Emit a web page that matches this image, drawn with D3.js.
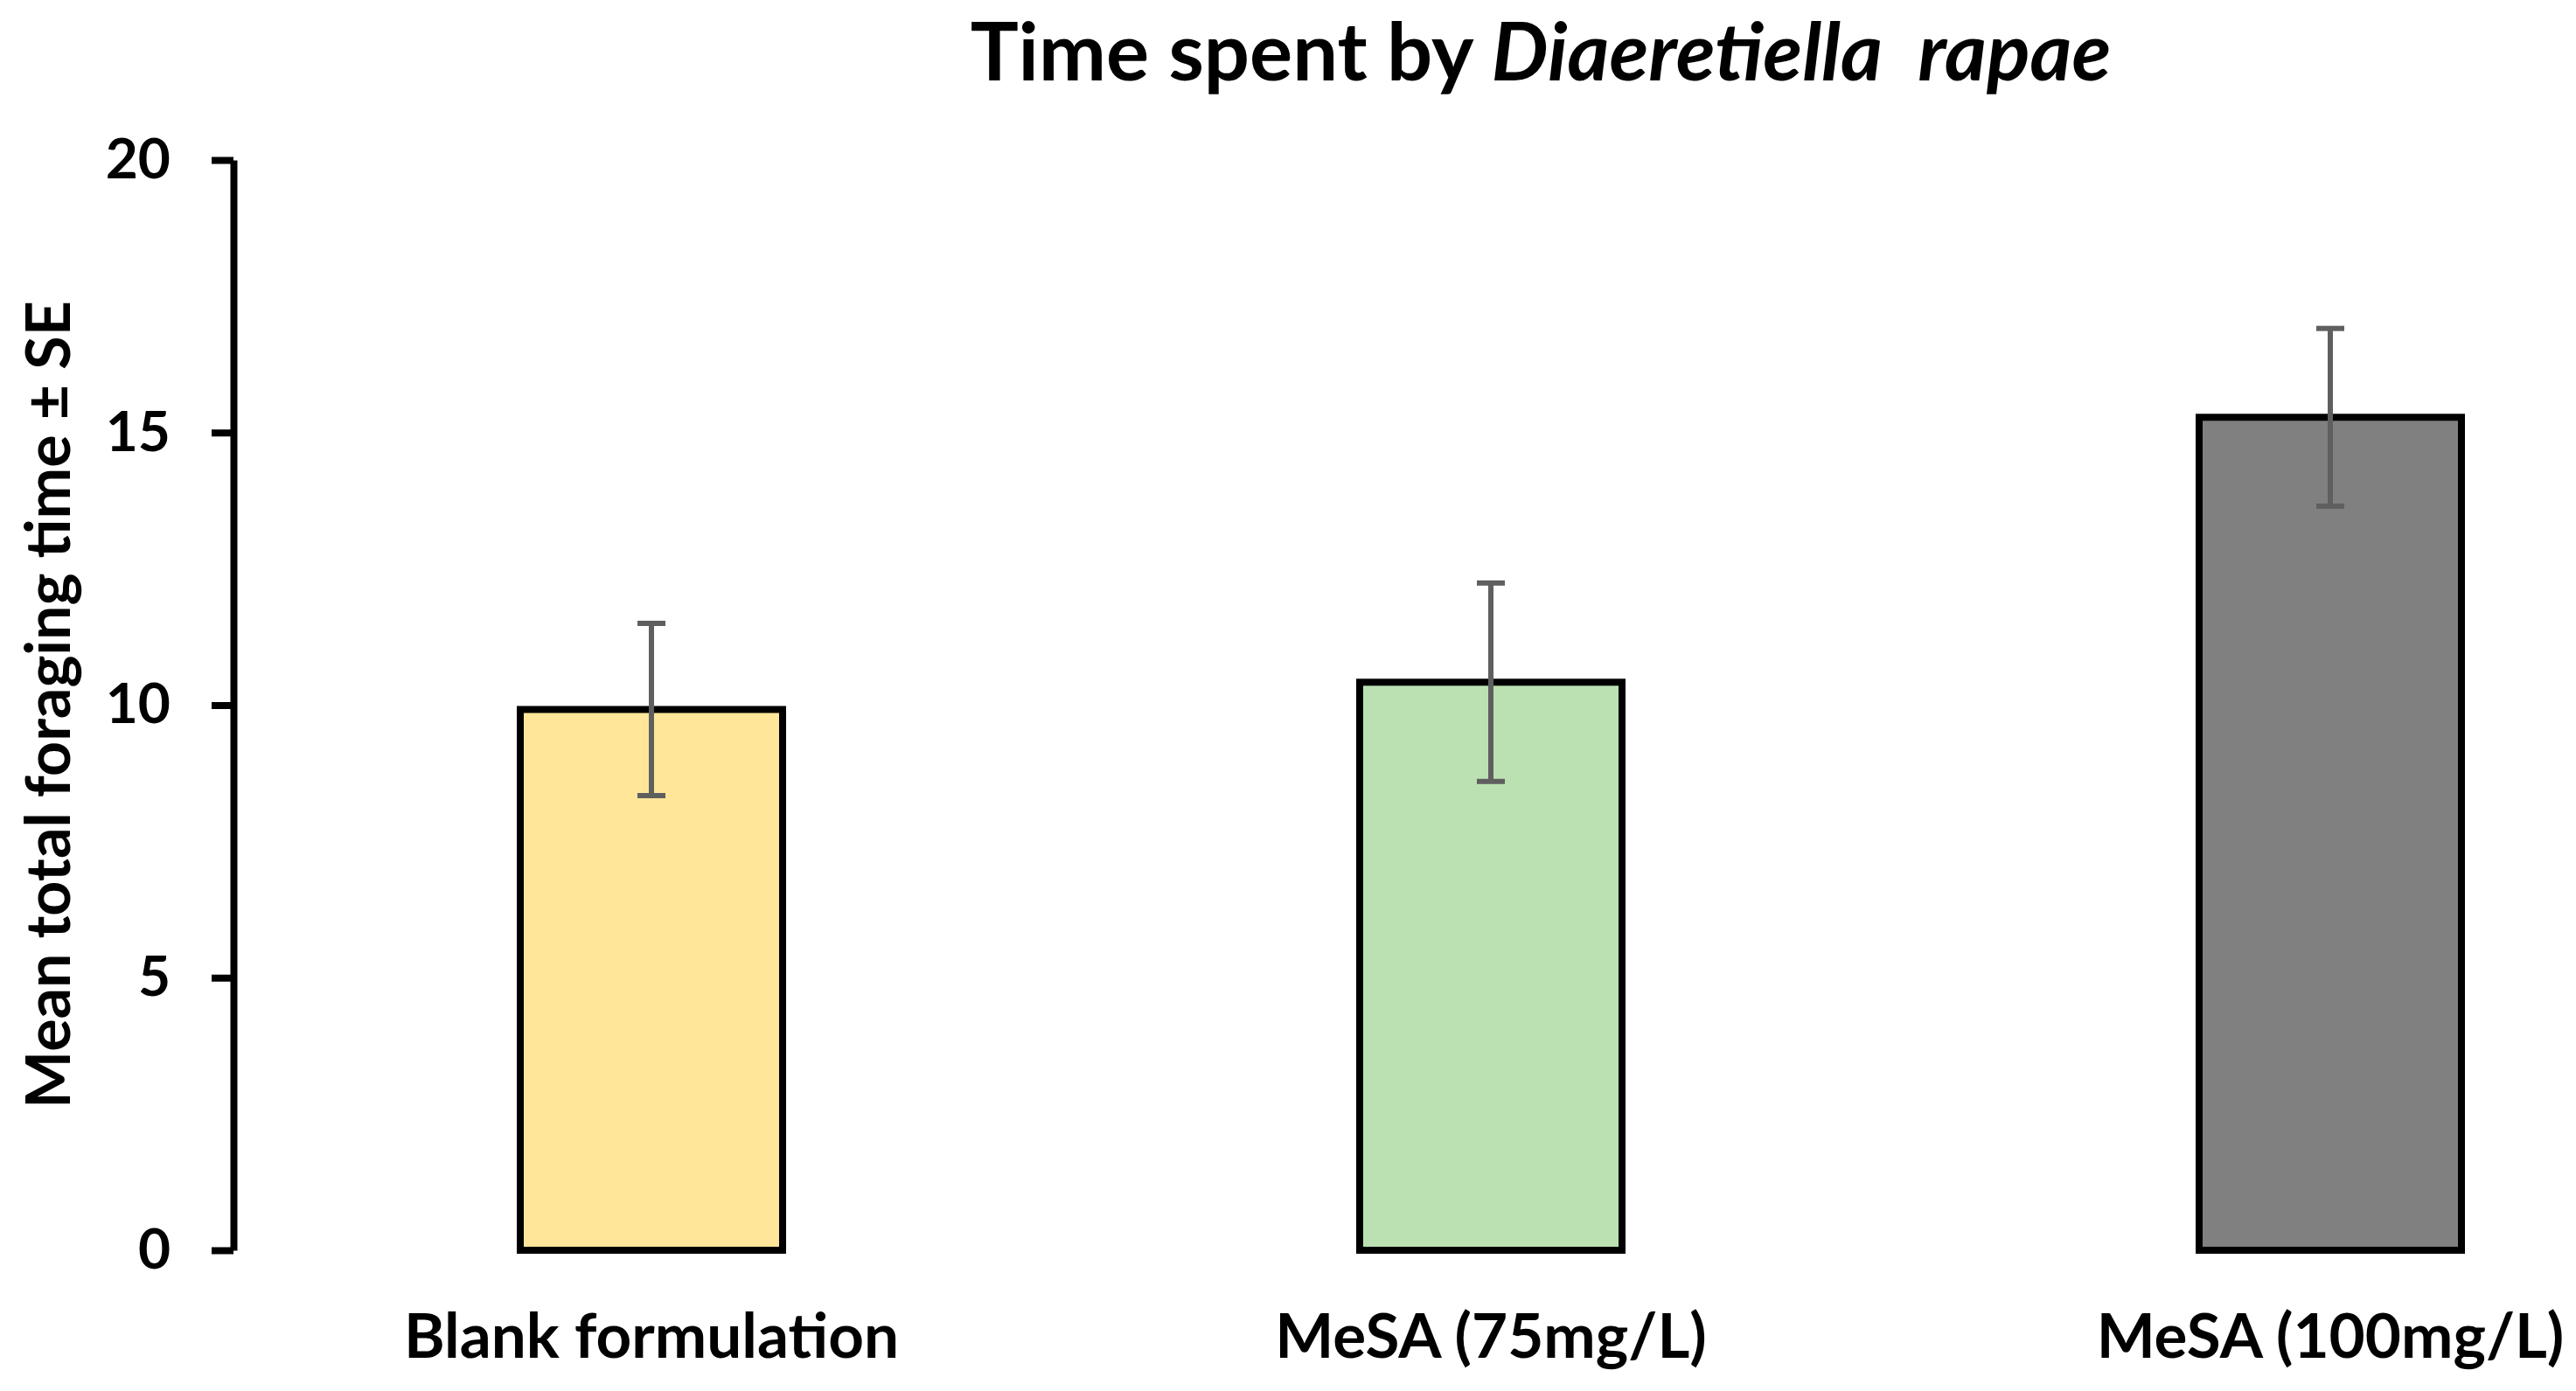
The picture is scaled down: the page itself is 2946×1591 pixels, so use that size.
<!DOCTYPE html>
<html>
<head>
<meta charset="utf-8">
<script src="https://cdn.jsdelivr.net/npm/d3@7"></script>
<style>
  body { margin: 0; background: #fff; }
  text { font-family: Lato, "Open Sans", sans-serif; font-weight: bold; fill: #000; }
</style>
</head>
<body>
<div id="chart"></div>
<script>
// values
const categories = ["Blank formulation", "MeSA (75mg/L)", "MeSA (100mg/L)"];
const means = [9.92, 10.42, 15.28];
const errors = [1.58, 1.82, 1.63];
const barColors = ["#FFE699", "#BBE1B3", "#808080"];
const yTicks = [0, 5, 10, 15, 20];

const width = 2946, height = 1591;

const svg = d3.select("#chart").append("svg")
  .attr("width", width)
  .attr("height", height);

// band range runs past the right edge, the original figure is cropped there
const x = d3.scaleBand()
  .domain(categories)
  .range([265, 3145])
  .paddingInner(0.6875)
  .paddingOuter(0.34375);

const y = d3.scaleLinear()
  .domain([0, 20])
  .range([1430, 183]);

const data = categories.map((c, i) => ({ name: c, mean: means[i], se: errors[i], color: barColors[i] }));

// y axis
const yAxis = d3.axisLeft(y)
  .tickValues(yTicks)
  .tickSize(25)
  .tickSizeOuter(0)
  .tickPadding(47);

const yg = svg.append("g")
  .attr("transform", "translate(267,0)")
  .call(yAxis);
yg.select(".domain").attr("stroke", "#000").attr("stroke-width", 8);
yg.selectAll(".tick line").attr("stroke", "#000").attr("stroke-width", 8);
yg.selectAll(".tick text")
  .attr("font-size", 64)
  .attr("font-family", null)
  .attr("fill", "#000");

// bars
svg.append("g").selectAll("rect")
  .data(data)
  .join("rect")
  .attr("x", d => x(d.name))
  .attr("y", d => y(d.mean))
  .attr("width", x.bandwidth())
  .attr("height", d => y(0) - y(d.mean))
  .attr("fill", d => d.color)
  .attr("stroke", "#000")
  .attr("stroke-width", 8);

// error bars
const errG = svg.append("g")
  .attr("stroke", "#5f5f5f")
  .attr("stroke-width", 6);
const cx = d => x(d.name) + x.bandwidth() / 2;
const capHalf = 16;

errG.selectAll("line.stem")
  .data(data)
  .join("line")
  .attr("class", "stem")
  .attr("x1", cx).attr("x2", cx)
  .attr("y1", d => y(d.mean + d.se))
  .attr("y2", d => y(d.mean - d.se));

errG.selectAll("line.capTop")
  .data(data)
  .join("line")
  .attr("class", "capTop")
  .attr("x1", d => cx(d) - capHalf).attr("x2", d => cx(d) + capHalf)
  .attr("y1", d => y(d.mean + d.se)).attr("y2", d => y(d.mean + d.se));

errG.selectAll("line.capBot")
  .data(data)
  .join("line")
  .attr("class", "capBot")
  .attr("x1", d => cx(d) - capHalf).attr("x2", d => cx(d) + capHalf)
  .attr("y1", d => y(d.mean - d.se)).attr("y2", d => y(d.mean - d.se));

// category labels (no x axis line in the original)
svg.append("g").selectAll("text")
  .data(categories)
  .join("text")
  .attr("x", d => x(d) + x.bandwidth() / 2)
  .attr("y", 1553)
  .attr("text-anchor", "middle")
  .attr("font-size", 71)
  .text(d => d);

// y axis title
svg.append("text")
  .attr("transform", "translate(80,806) rotate(-90)")
  .attr("text-anchor", "middle")
  .attr("font-size", 70)
  .text("Mean total foraging time \u00b1 SE");

// chart title
const title = svg.append("text")
  .attr("x", 1762)
  .attr("y", 92)
  .attr("text-anchor", "middle")
  .attr("font-size", 92);
title.append("tspan").text("Time spent by ");
title.append("tspan").attr("font-style", "italic").text("Diaeretiella\u00a0 rapae");
</script>
</body>
</html>
